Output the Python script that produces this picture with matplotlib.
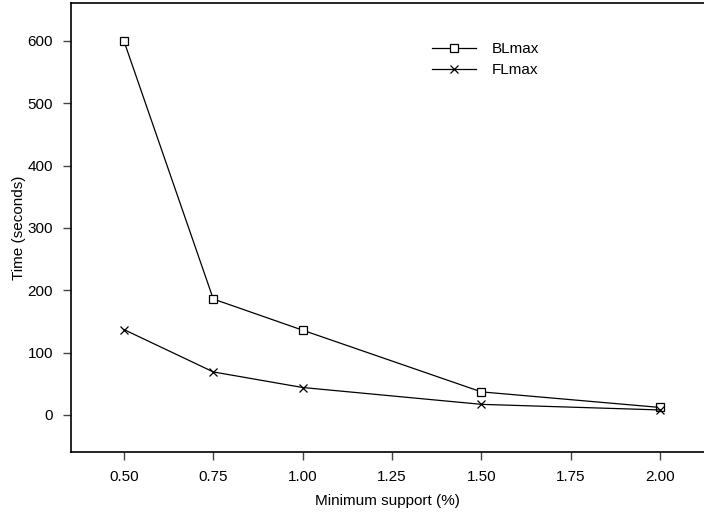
import matplotlib
matplotlib.use('Agg')
import matplotlib.pyplot as plt

plt.rcParams['font.family'] = ['Liberation Sans', 'DejaVu Sans']
plt.rcParams['font.size'] = 11

# minimum support (%) and run times (seconds)
support = [0.50, 0.75, 1.00, 1.50, 2.00]
blmax = [600, 186, 136, 37, 12]
flmax = [137, 69, 44, 17, 8]

x_ticks = [0.50, 0.75, 1.00, 1.25, 1.50, 1.75, 2.00]
y_ticks = [0, 100, 200, 300, 400, 500, 600]

fig = plt.figure(figsize=(7.04, 5.14), dpi=100)
ax = fig.add_axes([0.1009, 0.1206, 0.8991, 0.8736])

ax.plot(support, blmax, color='black', lw=0.9, marker='s', ms=6,
        mfc='white', mec='black', mew=0.9, label='BLmax')
ax.plot(support, flmax, color='black', lw=0.9, marker='x', ms=6,
        mew=0.9, label='FLmax')

ax.set_xlim(0.352, 2.123)
ax.set_ylim(-59.5, 661)
ax.set_xticks(x_ticks)
ax.set_xticklabels(['%.2f' % v for v in x_ticks])
ax.set_yticks(y_ticks)
ax.tick_params(direction='out', length=6, width=1, color='#444444', pad=7)

ax.spines['right'].set_visible(False)
for s in ['left', 'bottom', 'top']:
    ax.spines[s].set_linewidth(1.2)

ax.set_xlabel('Minimum support (%)', labelpad=7)
ax.set_ylabel('Time (seconds)', labelpad=1)

ax.legend(loc='upper left', bbox_to_anchor=(0.570, 0.912), frameon=False,
          borderaxespad=0, borderpad=0, handlelength=2.9, handletextpad=1.0,
          labelspacing=0.45)

fig.savefig('out.png', dpi=100)
